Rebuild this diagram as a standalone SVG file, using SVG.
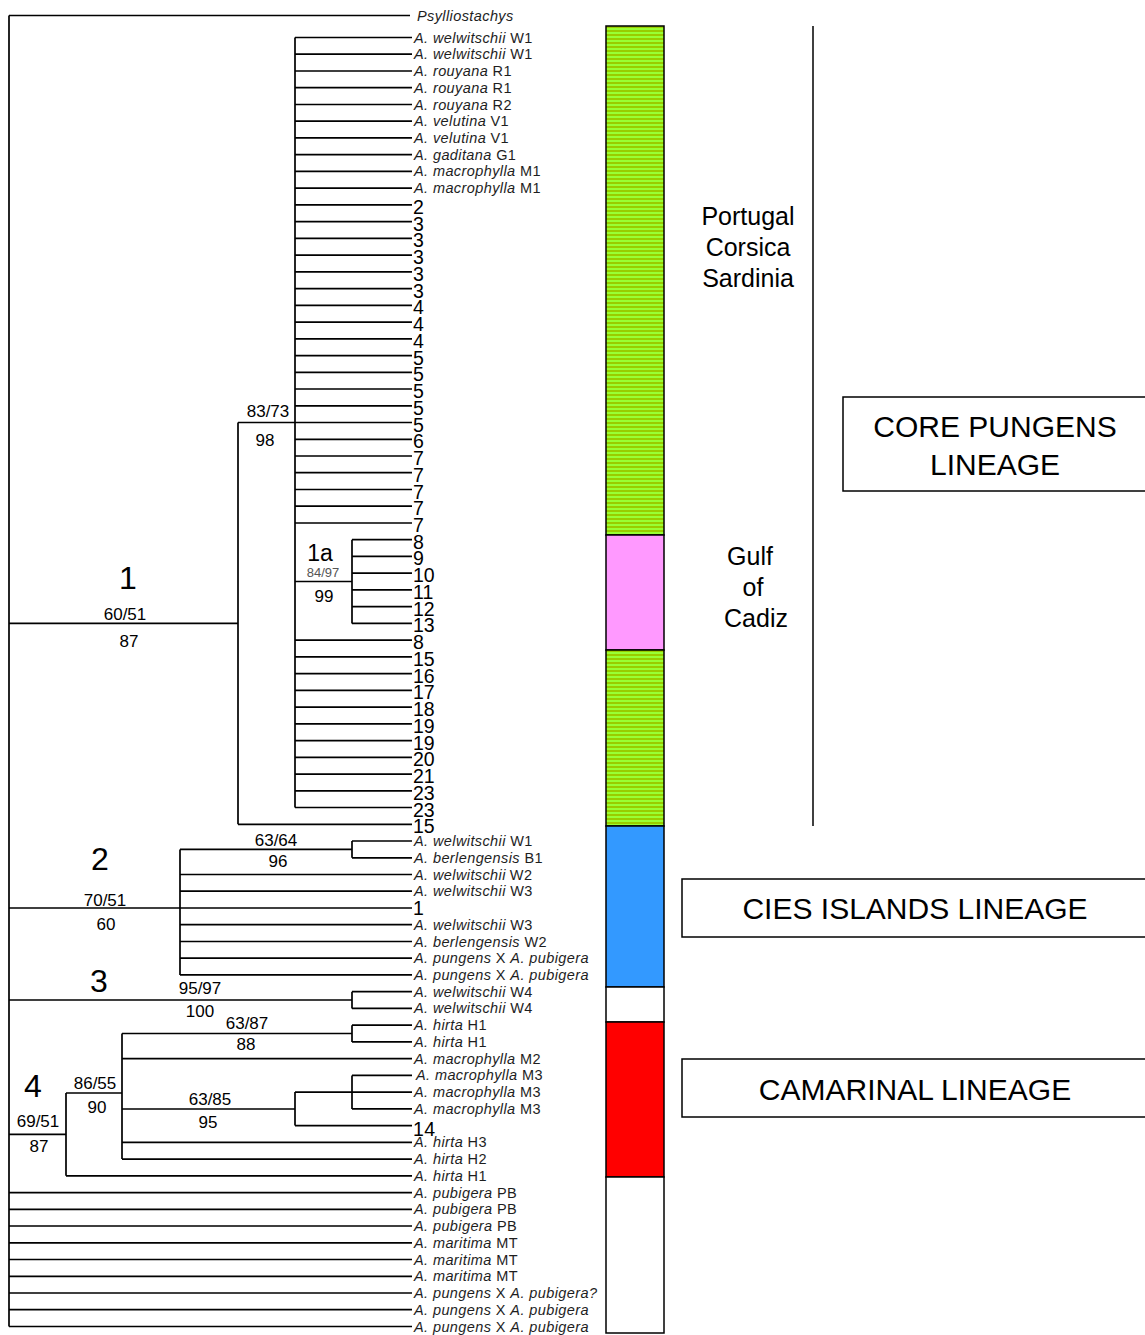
<svg xmlns="http://www.w3.org/2000/svg" width="1145" height="1335" viewBox="0 0 1145 1335">
<style>
.t{font-family:"Liberation Sans",Arial,sans-serif;}
.sp{font-size:14.5px;letter-spacing:0.4px;fill:#1e1e1e;}
.i{font-style:italic;}
.num{font-size:19.5px;fill:#000;}
.sv{font-size:17px;fill:#000;text-anchor:middle;}
.cl{font-size:32px;fill:#000;text-anchor:middle;}
.reg{font-size:25px;fill:#000;text-anchor:middle;}
.box{fill:#fff;stroke:#000;stroke-width:1.5;}
.bt{font-size:30px;fill:#000;text-anchor:middle;}
.seg{stroke:#000;stroke-width:1.5;}
</style>
<defs>
<pattern id="stripes" patternUnits="userSpaceOnUse" x="0" y="0" width="4" height="4">
<rect width="4" height="4" fill="#99ff33"/>
<rect y="2" width="4" height="2" fill="#99cc00"/>
</pattern>
</defs>
<rect width="1145" height="1335" fill="#fff"/>

<g id="connectors" fill="none" stroke="#000" stroke-width="1.7">
<path d="M9 15.5V1326.5M9 15.5H410"/>
<path d="M9 623.4H238M238 422.5V824.3M238 422.5H412M238 824.3H412M295 37.5V807.5"/>
<path d="M295 37.5H412M295 54.2H412M295 71H412M295 87.7H412M295 104.5H412M295 121.2H412M295 137.9H412M295 154.7H412M295 171.4H412M295 188.2H412M295 204.9H412M295 221.6H412M295 238.4H412M295 255.1H412M295 271.9H412M295 288.6H412M295 305.3H412M295 322.1H412M295 338.8H412M295 355.6H412M295 372.3H412M295 389H412M295 405.8H412M295 439.3H412M295 456H412M295 472.7H412M295 489.5H412M295 506.2H412M295 523H412"/>
<path d="M295 581.5H352M352 539.7V623.4M352 539.7H412M352 556.4H412M352 573.2H412M352 589.9H412M352 606.7H412M352 623.4H412"/>
<path d="M295 640.1H412M295 656.9H412M295 673.6H412M295 690.4H412M295 707.1H412M295 723.8H412M295 740.6H412M295 757.3H412M295 774.1H412M295 790.8H412M295 807.5H412"/>
<path d="M9 908H412M180 849.4V974.9M180 849.4H352M352 841V857.8M352 841H412M352 857.8H412M180 874.5H412M180 891.2H412M180 924.7H412M180 941.5H412M180 958.2H412M180 974.9H412"/>
<path d="M9 1000H352M352 991.7V1008.4M352 991.7H412M352 1008.4H412"/>
<path d="M9 1134.4H66M66 1093V1175.8M66 1093H122M66 1175.8H412M122 1033.5V1159.1M122 1033.5H352M352 1025.2V1041.9M352 1025.2H412M352 1041.9H412M122 1058.6H412M122 1109H295M295 1092.1V1125.6M295 1092.1H352M352 1075.4V1108.9M352 1075.4H412M352 1092.1H412M352 1108.9H412M295 1125.6H412M122 1142.3H412M122 1159.1H412"/>
<path d="M9 1192.6H412M9 1209.3H412M9 1226H412M9 1242.8H412M9 1259.5H412M9 1276.3H412M9 1293H412M9 1309.7H412M9 1326.5H412"/>
</g>

<g id="outgroup" class="t sp"><text x="417" y="20.5" class="i">Psylliostachys</text></g>

<g id="leaves-core-species" class="t sp">
<text x="414" y="42.5"><tspan class="i">A. welwitschii</tspan> W1</text>
<text x="414" y="59.2"><tspan class="i">A. welwitschii</tspan> W1</text>
<text x="414" y="76"><tspan class="i">A. rouyana</tspan> R1</text>
<text x="414" y="92.7"><tspan class="i">A. rouyana</tspan> R1</text>
<text x="414" y="109.5"><tspan class="i">A. rouyana</tspan> R2</text>
<text x="414" y="126.2"><tspan class="i">A. velutina</tspan> V1</text>
<text x="414" y="142.9"><tspan class="i">A. velutina</tspan> V1</text>
<text x="414" y="159.7"><tspan class="i">A. gaditana</tspan> G1</text>
<text x="414" y="176.4"><tspan class="i">A. macrophylla</tspan> M1</text>
<text x="414" y="193.2"><tspan class="i">A. macrophylla</tspan> M1</text>
</g>

<g id="leaves-core-haplotypes" class="t num">
<text x="413" y="214">2</text>
<text x="413" y="230.6">3</text>
<text x="413" y="247.4">3</text>
<text x="413" y="264.1">3</text>
<text x="413" y="280.9">3</text>
<text x="413" y="297.6">3</text>
<text x="413" y="314.3">4</text>
<text x="413" y="331.1">4</text>
<text x="413" y="347.8">4</text>
<text x="413" y="364.6">5</text>
<text x="413" y="381.3">5</text>
<text x="413" y="398">5</text>
<text x="413" y="414.8">5</text>
<text x="413" y="431.5">5</text>
<text x="413" y="448.3">6</text>
<text x="413" y="465">7</text>
<text x="413" y="481.7">7</text>
<text x="413" y="498.5">7</text>
<text x="413" y="515.2">7</text>
<text x="413" y="532">7</text>
<text x="413" y="548.7">8</text>
<text x="413" y="565.4">9</text>
<text x="413" y="582.2">10</text>
<text x="413" y="598.9">11</text>
<text x="413" y="615.7">12</text>
<text x="413" y="632.4">13</text>
<text x="413" y="649.1">8</text>
<text x="413" y="665.9">15</text>
<text x="413" y="682.6">16</text>
<text x="413" y="699.4">17</text>
<text x="413" y="716.1">18</text>
<text x="413" y="732.8">19</text>
<text x="413" y="749.6">19</text>
<text x="413" y="766.3">20</text>
<text x="413" y="783.1">21</text>
<text x="413" y="799.8">23</text>
<text x="413" y="816.5">23</text>
<text x="413" y="833.3">15</text>
</g>

<g id="leaves-cies" class="t sp">
<text x="414" y="846"><tspan class="i">A. welwitschii</tspan> W1</text>
<text x="414" y="862.8"><tspan class="i">A. berlengensis</tspan> B1</text>
<text x="414" y="879.5"><tspan class="i">A. welwitschii</tspan><tspan dx="4">W2</tspan></text>
<text x="414" y="896.2"><tspan class="i">A. welwitschii</tspan> W3</text>
<text x="413" y="915" class="num">1</text>
<text x="414" y="929.7"><tspan class="i">A. welwitschii</tspan> W3</text>
<text x="414" y="946.5"><tspan class="i">A. berlengensis</tspan> W2</text>
<text x="414" y="963.2"><tspan class="i">A. pungens</tspan> X <tspan class="i">A. pubigera</tspan></text>
<text x="414" y="979.9"><tspan class="i">A. pungens</tspan> X <tspan class="i">A. pubigera</tspan></text>
</g>

<g id="leaves-clade3" class="t sp">
<text x="414" y="996.7"><tspan class="i">A. welwitschii</tspan> W4</text>
<text x="414" y="1013.4"><tspan class="i">A. welwitschii</tspan> W4</text>
</g>

<g id="leaves-camarinal" class="t sp">
<text x="414" y="1030.2"><tspan class="i">A. hirta</tspan> H1</text>
<text x="414" y="1046.9"><tspan class="i">A. hirta</tspan> H1</text>
<text x="414" y="1063.6"><tspan class="i">A. macrophylla</tspan> M2</text>
<text x="416" y="1080.4"><tspan class="i">A. macrophylla</tspan> M3</text>
<text x="414" y="1097.1"><tspan class="i">A. macrophylla</tspan> M3</text>
<text x="414" y="1113.9"><tspan class="i">A. macrophylla</tspan> M3</text>
<text x="413" y="1136" class="num">14</text>
<text x="414" y="1147.3"><tspan class="i">A. hirta</tspan> H3</text>
<text x="414" y="1164.1"><tspan class="i">A. hirta</tspan> H2</text>
<text x="414" y="1180.8"><tspan class="i">A. hirta</tspan> H1</text>
</g>

<g id="leaves-other" class="t sp">
<text x="414" y="1197.6"><tspan class="i">A. pubigera</tspan> PB</text>
<text x="414" y="1214.3"><tspan class="i">A. pubigera</tspan> PB</text>
<text x="414" y="1231"><tspan class="i">A. pubigera</tspan> PB</text>
<text x="414" y="1247.8"><tspan class="i">A. maritima</tspan> MT</text>
<text x="414" y="1264.5"><tspan class="i">A. maritima</tspan> MT</text>
<text x="414" y="1281.3"><tspan class="i">A. maritima</tspan> MT</text>
<text x="414" y="1298"><tspan class="i">A. pungens</tspan> X <tspan class="i">A. pubigera?</tspan></text>
<text x="414" y="1314.7"><tspan class="i">A. pungens</tspan> X <tspan class="i">A. pubigera</tspan></text>
<text x="414" y="1331.5"><tspan class="i">A. pungens</tspan> X <tspan class="i">A. pubigera</tspan></text>
</g>

<g id="clade-1" class="t">
<text x="128" y="589" class="cl">1</text>
<text x="125" y="620" class="sv">60/51</text>
<text x="129" y="647" class="sv">87</text>
<text x="268" y="417" class="sv">83/73</text>
<text x="265" y="446" class="sv">98</text>
</g>
<g id="clade-1a" class="t">
<text x="320" y="561" font-size="23" text-anchor="middle">1a</text>
<text x="323" y="577" font-size="13" fill="#555" text-anchor="middle">84/97</text>
<text x="324" y="602" class="sv">99</text>
</g>
<g id="clade-2" class="t">
<text x="100" y="870" class="cl">2</text>
<text x="105" y="906" class="sv">70/51</text>
<text x="106" y="930" class="sv">60</text>
<text x="276" y="846" class="sv">63/64</text>
<text x="278" y="867" class="sv">96</text>
</g>
<g id="clade-3" class="t">
<text x="99" y="992" class="cl">3</text>
<text x="200" y="994" class="sv">95/97</text>
<text x="200" y="1017" class="sv">100</text>
</g>
<g id="clade-4" class="t">
<text x="33" y="1097" class="cl">4</text>
<text x="38" y="1127" class="sv">69/51</text>
<text x="39" y="1152" class="sv">87</text>
<text x="95" y="1089" class="sv">86/55</text>
<text x="97" y="1113" class="sv">90</text>
<text x="247" y="1029" class="sv">63/87</text>
<text x="246" y="1050" class="sv">88</text>
<text x="210" y="1105" class="sv">63/85</text>
<text x="208" y="1128" class="sv">95</text>
</g>

<g id="colour-bar">
<rect class="seg" x="606" y="26" width="58" height="509" fill="url(#stripes)"/>
<rect class="seg" x="606" y="535" width="58" height="115" fill="#ff99ff"/>
<rect class="seg" x="606" y="650" width="58" height="176" fill="url(#stripes)"/>
<rect class="seg" x="606" y="826" width="58" height="161" fill="#3399ff"/>
<rect class="seg" x="606" y="987" width="58" height="35" fill="#fff"/>
<rect class="seg" x="606" y="1022" width="58" height="155" fill="#ff0000"/>
<rect class="seg" x="606" y="1177" width="58" height="156" fill="#fff"/>
</g>

<g id="region-line"><path d="M813 26V826" stroke="#000" stroke-width="1.5"/></g>
<g id="region-portugal" class="t reg">
<text x="748" y="225">Portugal</text>
<text x="748" y="256">Corsica</text>
<text x="748" y="287">Sardinia</text>
</g>
<g id="region-cadiz" class="t reg">
<text x="750" y="565">Gulf</text>
<text x="753" y="596">of</text>
<text x="756" y="627">Cadiz</text>
</g>

<g id="box-core">
<rect class="box" x="843" y="397" width="310" height="94"/>
<text x="995" y="437" class="t bt">CORE PUNGENS</text>
<text x="995" y="475" class="t bt">LINEAGE</text>
</g>
<g id="box-cies">
<rect class="box" x="682" y="879" width="470" height="58"/>
<text x="915" y="919" class="t bt">CIES ISLANDS LINEAGE</text>
</g>
<g id="box-camarinal">
<rect class="box" x="682" y="1059" width="470" height="58"/>
<text x="915" y="1100" class="t bt">CAMARINAL LINEAGE</text>
</g>
</svg>
